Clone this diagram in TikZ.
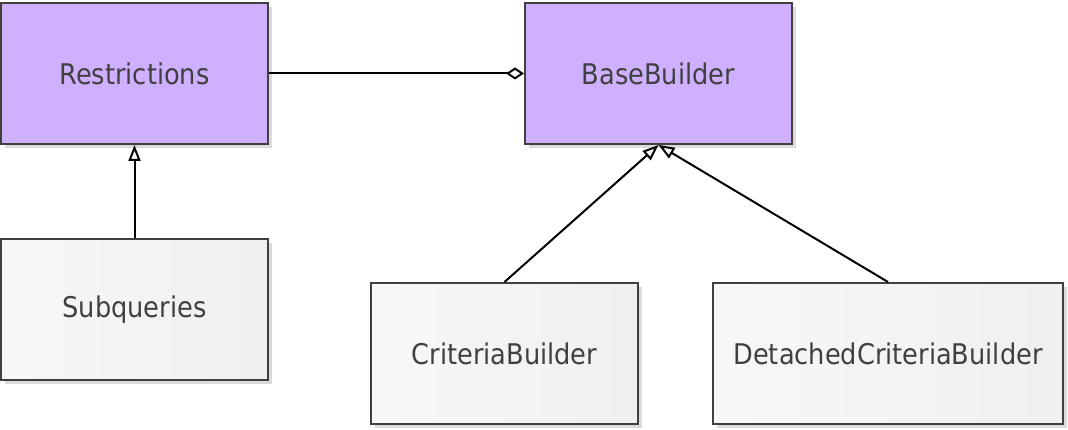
\documentclass[tikz,border=0pt]{standalone}
\usepackage{fontspec}
\setmainfont{DejaVu Sans Condensed}
\usetikzlibrary{arrows.meta,shadows}
\definecolor{lila}{HTML}{CFB0FF}
\definecolor{rand}{HTML}{404040}
\begin{document}
\begin{tikzpicture}[x=1pt, y=1pt,
		klasse/.style={draw=rand, line width=2pt, text=rand,
			minimum width=267pt, minimum height=141pt, inner sep=0pt,
			font=\fontsize{28.5}{34}\selectfont,
			drop shadow={shadow xshift=4pt, shadow yshift=-4pt, fill=black!14, opacity=1}},
		basis/.style={klasse, fill=lila},
		kind/.style={klasse, left color=black!3, right color=black!6},
		erbt/.style={line width=2pt, -{Triangle[open, length=16pt, width=12pt, line width=2pt]}},
		teil/.style={line width=2pt, -{Diamond[open, length=18pt, width=12pt, line width=2pt]}}]
		\useasboundingbox (0,0) rectangle (1068,430);
		% Klassen
		\node[basis] (restr) at (134.5,356.5) {Restrictions};
		\node[basis] (base) at (658.5,356.5) {BaseBuilder};
		\node[kind] (subq) at (134.5,120.5) {Subqueries};
		\node[kind] (crit) at (504.5,76.5) {CriteriaBuilder};
		\node[kind, minimum width=350pt] (detcrit) at (888,76.5) {DetachedCriteriaBuilder};
		% Vererbung
		\draw[erbt] (subq) -- (restr);
		\draw[erbt] (crit.north) -- (base.south);
		\draw[erbt] (detcrit.north) -- (base.south);
		% Aggregation
		\draw[teil] (restr.east) -- (base.west);
	\end{tikzpicture}
\end{document}
